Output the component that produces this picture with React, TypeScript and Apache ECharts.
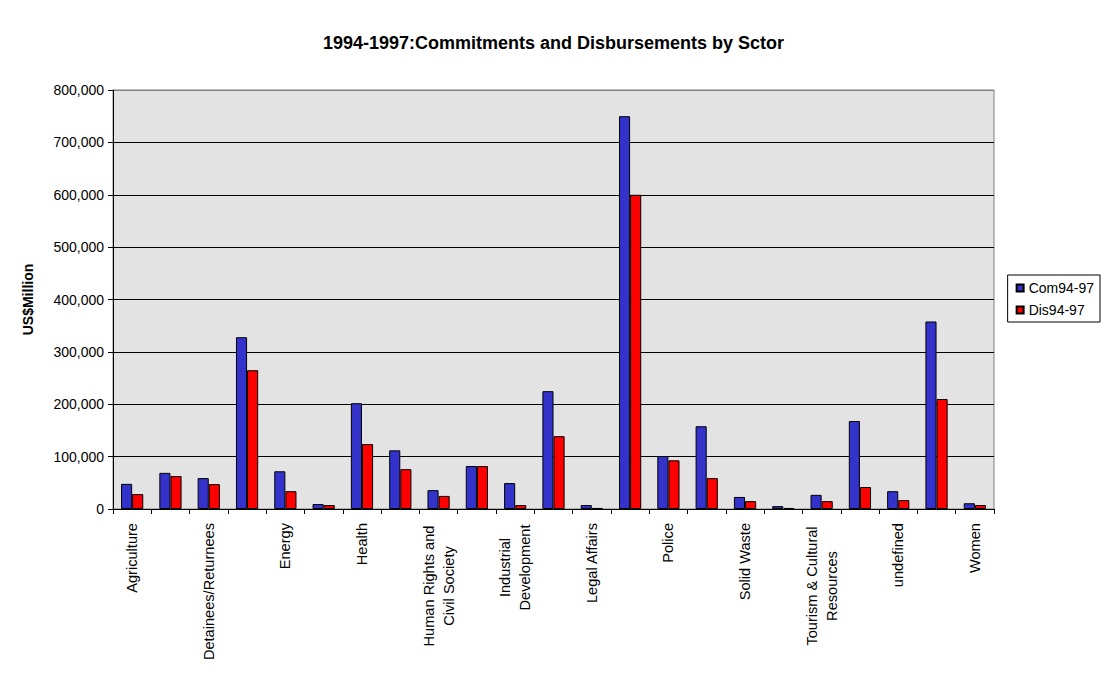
import { useEffect, useRef } from 'react';
import * as echarts from 'echarts';

const sectors = [
  'Agriculture',
  'Culture',
  'Detainees/Returnees',
  'Education',
  'Energy',
  'Environment',
  'Health',
  'Housing',
  'Human Rights and\nCivil Society',
  'Humanitarian Aid',
  'Industrial\nDevelopment',
  'Infrastructure',
  'Legal Affairs',
  'Multi-sector',
  'Police',
  'Private Sector',
  'Solid Waste',
  'Telecommunications',
  'Tourism & Cultural\nResources',
  'Transport',
  'undefined',
  'Water',
  'Women',
];

const com9497 = [
  48000, 69000, 59000, 328000, 72000, 9500, 202000, 112000, 36000, 82000, 49500, 225000,
  7500, 750000, 101000, 158000, 23000, 5500, 27000, 168000, 34000, 358000, 11000,
];

const dis9497 = [
  28500, 63000, 47500, 265000, 34000, 7500, 124000, 76000, 25000, 82000, 7500, 139000,
  2000, 600000, 93000, 59000, 15000, 2000, 15000, 42000, 17000, 210000, 7500,
];

const FONT = '"Liberation Sans", Arial, sans-serif';

export default function App() {
  const chartRef = useRef<HTMLDivElement>(null);

  useEffect(() => {
    document.body.style.margin = '0';
    if (!chartRef.current) return;
    const myChart = echarts.init(chartRef.current, null, { renderer: 'svg' });

    const option = {
      animation: false,
      backgroundColor: '#ffffff',
      title: {
        text: '1994-1997:Commitments and Disbursements by Sctor',
        left: 'center',
        top: 29,
        textStyle: { fontFamily: FONT, fontSize: 18, fontWeight: 'bold', color: '#000' },
      },
      legend: {
        orient: 'vertical',
        right: 7,
        top: 275,
        data: ['Com94-97', 'Dis94-97'],
        icon: 'rect',
        itemWidth: 7,
        itemHeight: 7,
        itemGap: 8,
        padding: [6, 6, 5, 8],
        borderColor: '#000',
        borderWidth: 1,
        textStyle: { fontFamily: FONT, fontSize: 14, color: '#000' },
      },
      grid: {
        left: 113,
        right: 113,
        top: 90,
        bottom: 171,
        show: true,
        backgroundColor: '#e3e3e3',
        borderColor: '#808080',
        borderWidth: 1,
      },
      xAxis: {
        type: 'category',
        data: sectors,
        axisLine: { lineStyle: { color: '#000', width: 1 } },
        axisTick: { show: true, interval: 0, length: 5, lineStyle: { color: '#000' } },
        axisLabel: {
          interval: 1,
          rotate: 90,
          margin: 14,
          fontFamily: FONT,
          fontSize: 14.6,
          color: '#000',
          lineHeight: 20,
          formatter: (v: string) => {
            if (v.indexOf('\n') < 0) return v;
            const style = v.startsWith('Industrial') ? 'w85' : 'w120';
            return v
              .split('\n')
              .map((s) => `{${style}|${s}}`)
              .join('\n');
          },
          rich: {
            w85: { width: 89, align: 'center', fontFamily: FONT, fontSize: 14.6, lineHeight: 20 },
            w120: { width: 126, align: 'center', fontFamily: FONT, fontSize: 14.6, lineHeight: 20 },
          },
        },
      },
      yAxis: {
        type: 'value',
        min: 0,
        max: 800000,
        interval: 100000,
        name: 'US$Million',
        nameLocation: 'middle',
        nameGap: 78,
        nameTextStyle: { fontFamily: FONT, fontSize: 14, fontWeight: 'bold', color: '#000' },
        axisLine: { show: true, lineStyle: { color: '#000', width: 1 } },
        axisTick: { show: true, length: 5, lineStyle: { color: '#000' } },
        axisLabel: {
          margin: 9,
          fontFamily: FONT,
          fontSize: 14,
          color: '#000',
          formatter: (v: number) => v.toLocaleString('en-US'),
        },
        splitLine: {
          show: true,
          lineStyle: {
            color: ['#000', '#000', '#000', '#000', '#000', '#000', '#000', '#000', '#808080'],
            width: 1,
          },
        },
      },
      series: [
        {
          name: 'Com94-97',
          type: 'bar',
          data: com9497,
          barGap: '0%',
          barCategoryGap: '42%',
          itemStyle: { color: '#3333cc', borderColor: '#000', borderWidth: 1 },
        },
        {
          name: 'Dis94-97',
          type: 'bar',
          data: dis9497,
          barGap: '0%',
          barCategoryGap: '42%',
          itemStyle: { color: '#ff0000', borderColor: '#000', borderWidth: 1 },
        },
      ],
    };

    myChart.setOption(option);

    return () => {
      myChart.dispose();
    };
  }, []);

  return <div ref={chartRef} style={{ width: '1107px', height: '680px' }}></div>;
}
